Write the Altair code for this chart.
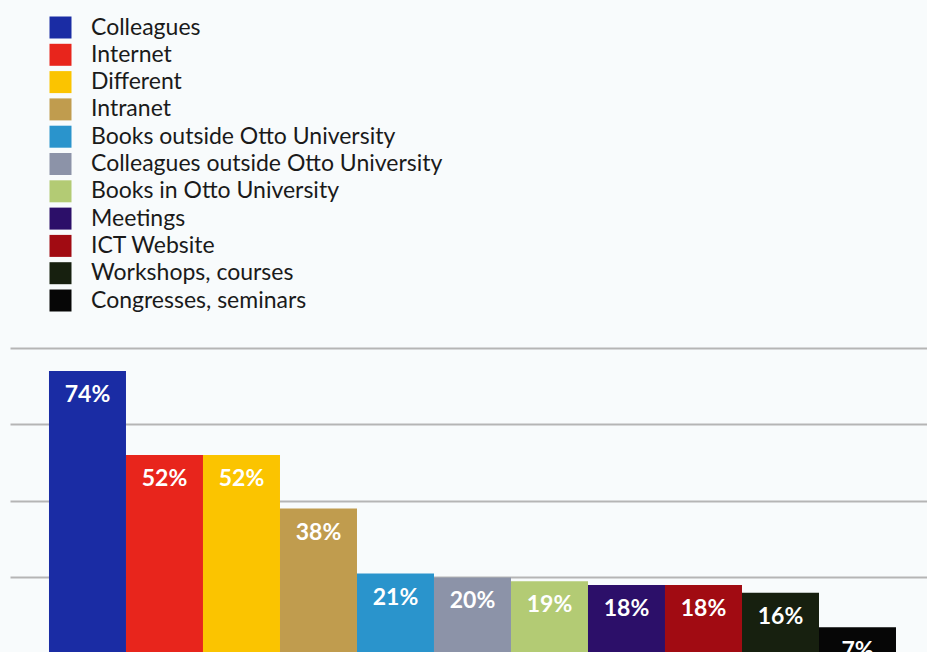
import altair as alt
import pandas as pd

categories = [
    "Colleagues", "Internet", "Different", "Intranet",
    "Books outside Otto University", "Colleagues outside Otto University",
    "Books in Otto University", "Meetings", "ICT Website",
    "Workshops, courses", "Congresses, seminars",
]
values = [74, 52, 52, 38, 21, 20, 19, 18, 18, 16, 7]
colors = [
    "#1a2ca4", "#e8251c", "#fbc400", "#c09c4e", "#2a94cc", "#8c93a8",
    "#b3cb74", "#2c0f69", "#a10b12", "#17200f", "#060606",
]

df = pd.DataFrame({"cat": categories, "val": values,
                   "label": [f"{v}%" for v in values]})

xscale = alt.Scale(paddingInner=0, paddingOuter=0.4545, align=0.557)
x = alt.X("cat:N", sort=categories, axis=None, scale=xscale)
y = alt.Y("val:Q",
          scale=alt.Scale(domain=[0.5, 80], nice=False, zero=False),
          axis=alt.Axis(values=[20, 40, 60, 80], labels=False, ticks=False,
                        domain=False, title=None, grid=True,
                        gridColor="#b5b5b5", gridWidth=2))

bars = alt.Chart(df).mark_bar(clip=True, cornerRadius=0).encode(
    x=x,
    y=y,
    y2=alt.datum(0),
    color=alt.Color(
        "cat:N",
        scale=alt.Scale(domain=categories, range=colors),
        legend=alt.Legend(
            orient="none", legendX=39, legendY=-332, title=None,
            symbolType="square", symbolSize=484, symbolStrokeWidth=0,
            symbolOpacity=1, labelFontSize=23, labelFont="Lato",
            labelColor="#1a1a1a", labelOffset=19, rowPadding=3.3,
            padding=0, labelLimit=600,
        ),
    ),
)

text = alt.Chart(df).mark_text(
    clip=True, color="white", fontSize=23, font="Lato", fontWeight="bold",
    baseline="top", dy=13,
).encode(x=alt.X("cat:N", sort=categories, axis=None, scale=xscale),
         y=alt.Y("val:Q"), text="label:N")

chart = alt.layer(bars, text).properties(
    width=917, height=304,
    autosize=alt.AutoSizeParams(type="none"),
    padding={"top": 348, "left": 10, "right": 0, "bottom": 0},
    background="#f8fbfc",
).configure_view(stroke=None)

chart.save("out.html", embed_options={"renderer": "svg", "actions": False})
